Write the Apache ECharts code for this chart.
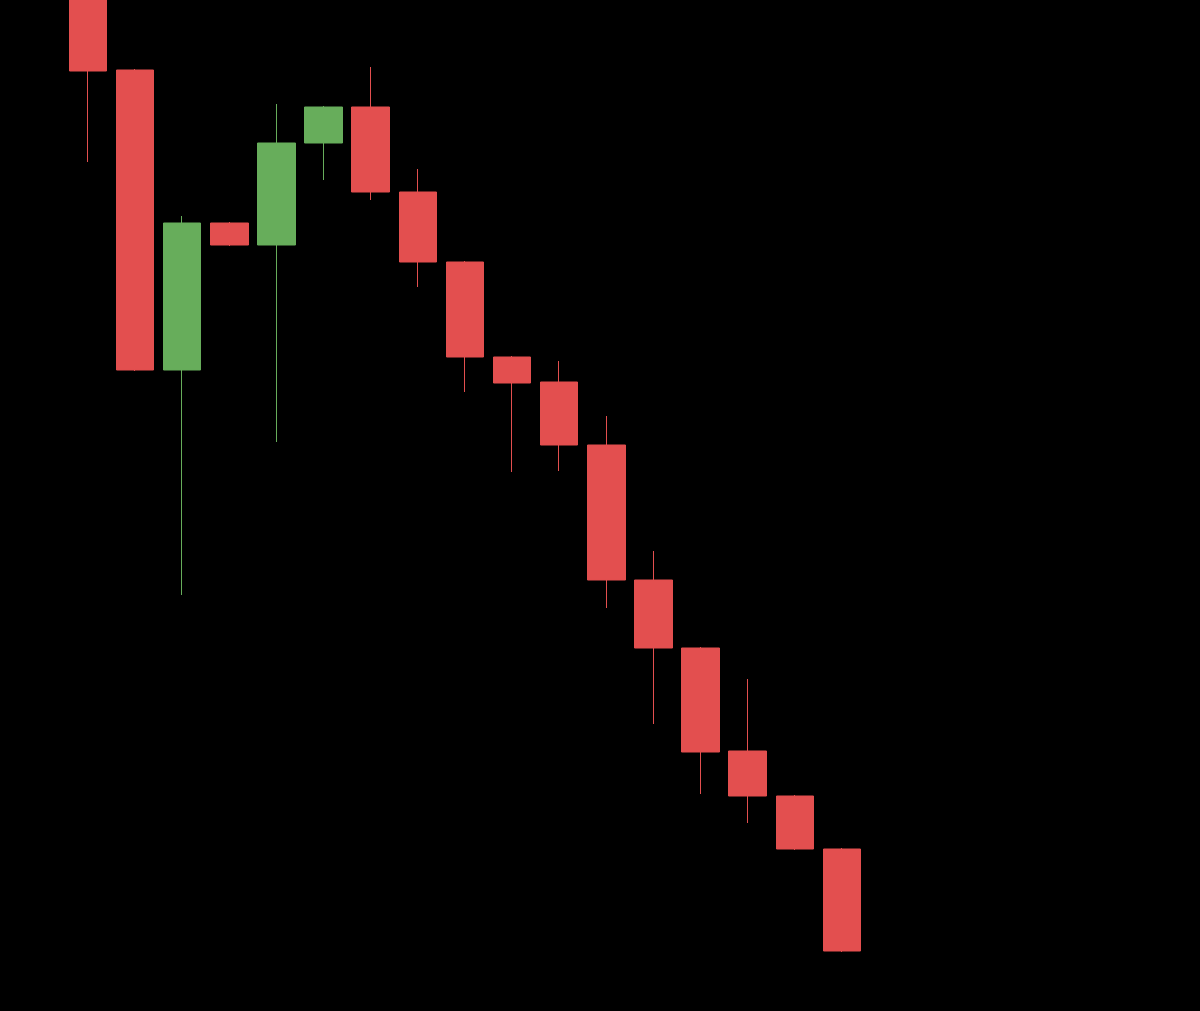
<!DOCTYPE html>
<html>
<head>
<meta charset="utf-8">
<style>
  html, body { margin: 0; padding: 0; background: #000; }
  #chart { width: 1200px; height: 1011px; }
</style>
<script src="https://cdn.jsdelivr.net/npm/echarts@6/dist/echarts.min.js"></script>
</head>
<body>
<div id="chart"></div>
<script>
// Categories (24 slots; only the first 17 hold candles)
const categories = ['1','2','3','4','5','6','7','8','9','10','11','12','13','14','15','16','17','18','19','20','21','22','23','24'];
// Candle values
const opens  = [104.0, 93.0, 63.0, 77.7, 75.5, 85.7, 89.3, 80.8, 73.8, 64.3, 61.8, 55.5, 42.0, 35.2, 24.9, 20.4, 15.1];
const closes = [ 92.9, 63.0, 77.7, 75.5, 85.7, 89.3, 80.8, 73.8, 64.3, 61.7, 55.5, 42.0, 35.2, 24.8, 20.4, 15.1,  4.9];
const lows   = [ 83.8, 62.9, 40.5, 75.4, 55.8, 82.0, 80.0, 71.3, 60.8, 52.8, 52.9, 39.2, 27.6, 20.6, 17.7, 15.0,  4.8];
const highs  = [106.0, 93.1, 78.4, 77.8, 89.6, 89.4, 93.3, 83.1, 73.9, 64.4, 63.9, 58.4, 44.9, 35.3, 32.1, 20.5, 15.2];

const candleData = opens.map((o, i) => [o, closes[i], lows[i], highs[i]]);

const chart = echarts.init(document.getElementById('chart'));
chart.setOption({
  backgroundColor: '#000000',
  animation: false,
  grid: { left: 64.4, right: 4.6, top: 0, bottom: 11, containLabel: false },
  xAxis: {
    type: 'category',
    data: categories,
    boundaryGap: true,
    show: false
  },
  yAxis: {
    type: 'value',
    min: 0,
    max: 100,
    show: false
  },
  series: [{
    type: 'candlestick',
    data: candleData,
    barWidth: 38,
    clip: true,
    itemStyle: {
      color: '#67ad5b',
      color0: '#e34f4f',
      borderColor: '#67ad5b',
      borderColor0: '#e34f4f',
      borderWidth: 1
    }
  }]
});
</script>
</body>
</html>
